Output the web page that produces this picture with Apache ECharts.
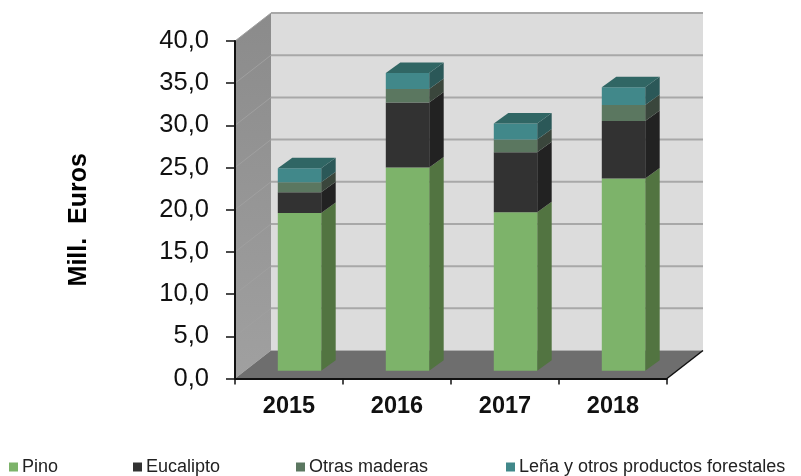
<!DOCTYPE html>
<html>
<head>
<meta charset="utf-8">
<style>
    html, body { margin: 0; padding: 0; background: #fff; }
    #chart { width: 801px; height: 476px; }
</style>
<script src="https://cdn.jsdelivr.net/npm/echarts@6/dist/echarts.min.js"></script>
</head>
<body>
<div id="chart"></div>
<script>
const years = ['2015', '2016', '2017', '2018'];
const yTicks = [0, 5, 10, 15, 20, 25, 30, 35, 40];
const pino = [18.7, 24.1, 18.8, 22.8];
const eucalipto = [2.45, 7.7, 7.1, 6.8];
const otrasMaderas = [1.2, 1.6, 1.5, 1.9];
const lena = [1.65, 1.9, 1.9, 2.1];

const FONT = '"Liberation Sans", Arial, sans-serif';

// fake 3D box: depth of the walls and of the bars, in pixels
const WALL_DX = 36, WALL_DY = 28;
const BAR_DX = 14.5, BAR_DY = 10.5;
const BAR_SHIFT_X = 10.5, BAR_SHIFT_Y = 7.7;
const BAR_W = 43.4;

function poly(points, fill, z2) {
    return { type: 'polygon', shape: { points: points }, style: { fill: fill }, z2: z2 || 0 };
}

function renderWalls(params, api) {
    const cs = params.coordSys;
    const x0 = cs.x, x1 = cs.x + cs.width;
    const yTop = api.coord([0, 40])[1], yBottom = api.coord([0, 0])[1];
    const children = [];

    children.push(poly([[x0 + WALL_DX, yTop - WALL_DY], [x1 + WALL_DX, yTop - WALL_DY],
        [x1 + WALL_DX, yBottom - WALL_DY], [x0 + WALL_DX, yBottom - WALL_DY]], '#dcdcdc'));
    children.push({
        type: 'polygon',
        shape: { points: [[x0, yBottom], [x0, yTop], [x0 + WALL_DX, yTop - WALL_DY], [x0 + WALL_DX, yBottom - WALL_DY]] },
        style: {
            fill: new echarts.graphic.LinearGradient(0, 0, 0, 1, [
                { offset: 0, color: '#8b8b8b' },
                { offset: 1, color: '#a0a0a0' }
            ])
        }
    });
    children.push(poly([[x0, yBottom], [x0 + WALL_DX, yBottom - WALL_DY],
        [x1 + WALL_DX, yBottom - WALL_DY], [x1, yBottom]], '#6e6e6e'));

    yTicks.forEach(t => {
        const y = api.coord([0, t])[1];
        if (t > 0) {
            children.push({
                type: 'line',
                shape: { x1: x0 + WALL_DX, y1: y - WALL_DY, x2: x1 + WALL_DX, y2: y - WALL_DY },
                style: { stroke: '#a8a8a8', lineWidth: 2 }
            });
            children.push({
                type: 'line',
                shape: { x1: x0, y1: y, x2: x0 + WALL_DX, y2: y - WALL_DY },
                style: { stroke: '#a0a0a0', lineWidth: 1 }
            });
        }
    });
    // front edge of the floor on the right
    children.push({
        type: 'line',
        shape: { x1: x1, y1: yBottom, x2: x1 + WALL_DX, y2: yBottom - WALL_DY },
        style: { stroke: '#111', lineWidth: 1.5 }
    });
    return { type: 'group', children: children };
}

function stackSeries(name, values, below, front, side, top) {
    return {
        name: name,
        type: 'custom',
        coordinateSystem: 'cartesian2d',
        z: 3,
        itemStyle: { color: front },
        encode: { x: 0, y: 2 },
        data: values.map((v, i) => [i, below[i], below[i] + v]),
        renderItem: function (params, api) {
            const base = api.coord([api.value(0), api.value(1)]);
            const end = api.coord([api.value(0), api.value(2)]);
            const left = base[0] + BAR_SHIFT_X - BAR_W / 2;
            const right = left + BAR_W;
            const yb = base[1] - BAR_SHIFT_Y;
            const yt = end[1] - BAR_SHIFT_Y;
            const children = [
                poly([[right, yb], [right + BAR_DX, yb - BAR_DY], [right + BAR_DX, yt - BAR_DY], [right, yt]], side),
                poly([[left, yb], [right, yb], [right, yt], [left, yt]], front)
            ];
            if (top) {
                children.push(poly([[left, yt], [right, yt], [right + BAR_DX, yt - BAR_DY], [left + BAR_DX, yt - BAR_DY]], top));
            }
            return { type: 'group', children: children };
        }
    };
}

function cumulate(below, values) {
    return below.map((b, i) => b + values[i]);
}

const base0 = years.map(() => 0);
const base1 = cumulate(base0, pino);
const base2 = cumulate(base1, eucalipto);
const base3 = cumulate(base2, otrasMaderas);

function legendAt(name, left) {
    return {
        data: [name],
        left: left,
        top: 458,
        icon: 'rect',
        itemWidth: 9,
        itemHeight: 9,
        itemGap: 5,
        padding: 0,
        selectedMode: false,
        textStyle: { fontFamily: FONT, fontSize: 18, color: '#222', padding: [0, 0, 0, -1] }
    };
}

const myChart = echarts.init(document.getElementById('chart'), null, { renderer: 'canvas' });

myChart.setOption({
    backgroundColor: '#fff',
    animation: false,
    grid: { left: 235, right: 134, top: 41, bottom: 97.5 },
    legend: [
        legendAt('Pino', 9),
        legendAt('Eucalipto', 133),
        legendAt('Otras maderas', 296),
        legendAt('Leña y otros productos forestales', 506)
    ],
    xAxis: {
        type: 'category',
        data: years,
        z: 5,
        axisLine: { lineStyle: { color: '#111', width: 2 } },
        axisTick: { show: true, length: 6, lineStyle: { color: '#111', width: 1.5 } },
        axisLabel: { fontFamily: FONT, fontSize: 23.5, fontWeight: 'bold', color: '#111', margin: 16 }
    },
    yAxis: {
        type: 'value',
        min: 0,
        max: 40,
        interval: 5,
        z: 5,
        name: 'Mill.  Euros',
        nameLocation: 'middle',
        nameGap: 143,
        nameRotate: 90,
        nameTextStyle: { fontFamily: FONT, fontSize: 25, fontWeight: 'bold', color: '#000', padding: [0, 20, 0, 0] },
        splitLine: { show: false },
        axisLine: { show: true, lineStyle: { color: '#111', width: 2 } },
        axisTick: { show: true, length: 9, lineStyle: { color: '#111', width: 1.5 } },
        axisLabel: {
            fontFamily: FONT,
            fontSize: 25.5,
            color: '#111',
            margin: 26,
            padding: [3, 0, 0, 0],
            formatter: v => v.toFixed(1).replace('.', ',')
        }
    },
    series: [
        {
            type: 'custom',
            name: 'walls',
            coordinateSystem: 'cartesian2d',
            z: 1,
            silent: true,
            data: [[0, 0]],
            renderItem: renderWalls
        },
        stackSeries('Pino', pino, base0, '#7db36a', '#527441'),
        stackSeries('Eucalipto', eucalipto, base1, '#323232', '#222222'),
        stackSeries('Otras maderas', otrasMaderas, base2, '#5b7760', '#3a463c'),
        stackSeries('Leña y otros productos forestales', lena, base3, '#41888a', '#2b5858', '#306664')
    ]
});
</script>
</body>
</html>
